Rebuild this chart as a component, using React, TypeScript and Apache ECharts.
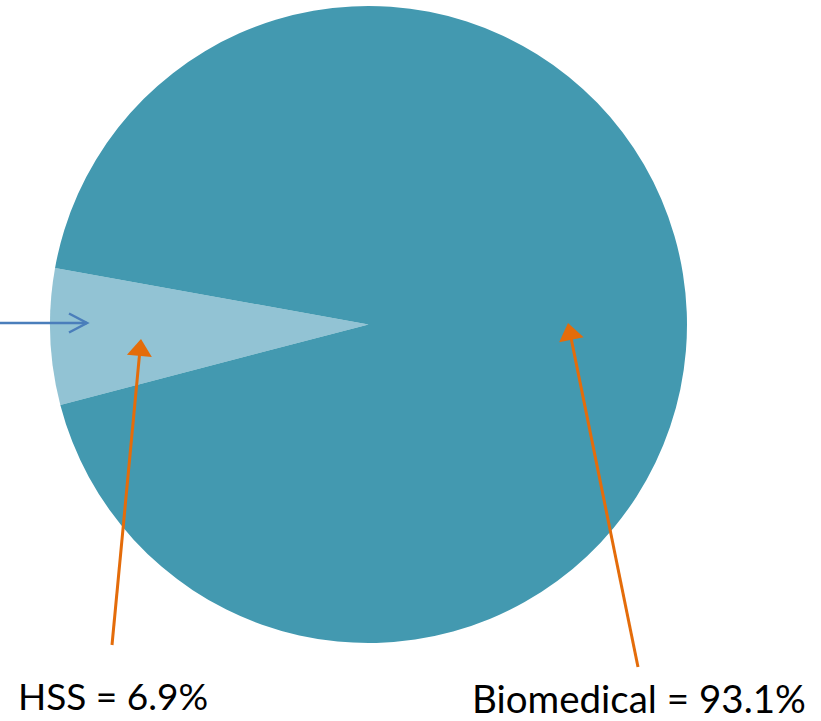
import React, { useEffect, useRef } from "react";
import * as echarts from "echarts";

const categories = ["HSS", "Biomedical"];
const shares = [6.9, 93.1];
const sliceColors = ["#92C3D4", "#4399B0"];
const labelTexts = ["HSS = 6.9%", "Biomedical = 93.1%"];

const W = 821;
const H = 721;
const CX = 368.5;
const CY = 324.5;
const R = 318.5;
const ORANGE = "#E46C0A";
const BLUE = "#4A7EBB";

// straight shaft with a filled triangular head at the tip
function arrow(x0: number, y0: number, x1: number, y1: number, color: string) {
  const dx = x1 - x0;
  const dy = y1 - y0;
  const len = Math.hypot(dx, dy);
  const ux = dx / len;
  const uy = dy / len;
  const headLen = 17;
  const halfW = 12.5;
  const bx = x1 - ux * headLen;
  const by = y1 - uy * headLen;
  return [
    {
      type: "line",
      shape: { x1: x0, y1: y0, x2: bx + ux * 2, y2: by + uy * 2 },
      style: { stroke: color, lineWidth: 3 },
      z: 10,
    },
    {
      type: "polygon",
      shape: {
        points: [
          [x1, y1],
          [bx - uy * halfW, by + ux * halfW],
          [bx + uy * halfW, by - ux * halfW],
        ],
      },
      style: { fill: color },
      z: 10,
    },
  ];
}

export default function App() {
  const ref = useRef<HTMLDivElement>(null);

  useEffect(() => {
    if (!ref.current) return;
    const chart = echarts.init(ref.current, undefined, { renderer: "svg" });

    // HSS wedge sits on the left, centred slightly below horizontal
    const hssSweep = (shares[0] / 100) * 360;
    const startAngle = 182.2 + hssSweep / 2;

    const blueTipX = 87;
    const font = "Lato, 'Open Sans', sans-serif";

    chart.setOption({
      animation: false,
      backgroundColor: "#ffffff",
      series: [
        {
          type: "pie",
          center: [CX, CY],
          radius: [0, R],
          startAngle,
          clockwise: true,
          label: { show: false },
          labelLine: { show: false },
          emphasis: { disabled: true },
          itemStyle: { borderWidth: 0 },
          data: categories.map((name, i) => ({
            name,
            value: shares[i],
            itemStyle: { color: sliceColors[i] },
          })),
        },
      ],
      graphic: [
        ...arrow(112, 645, 141, 339, ORANGE),
        ...arrow(638, 667, 568, 323, ORANGE),
        {
          type: "line",
          shape: { x1: 0, y1: CY - 1.5, x2: blueTipX, y2: CY - 1.5 },
          style: { stroke: BLUE, lineWidth: 2.5 },
          z: 10,
        },
        {
          type: "polyline",
          shape: {
            points: [
              [blueTipX - 18, CY - 11],
              [blueTipX, CY - 1.5],
              [blueTipX - 18, CY + 8],
            ],
          },
          style: { stroke: BLUE, lineWidth: 2.5, fill: "none" },
          z: 10,
        },
        {
          type: "text",
          x: 18,
          y: 695,
          style: {
            text: labelTexts[0],
            font: `37px ${font}`,
            fill: "#000000",
            verticalAlign: "middle",
          },
          z: 10,
        },
        {
          type: "text",
          x: 472,
          y: 698,
          style: {
            text: labelTexts[1],
            font: `38.5px ${font}`,
            fill: "#000000",
            verticalAlign: "middle",
          },
          z: 10,
        },
      ],
    });

    return () => chart.dispose();
  }, []);

  return (
    <div
      ref={ref}
      style={{ position: "fixed", left: 0, top: 0, width: W, height: H }}
    />
  );
}
